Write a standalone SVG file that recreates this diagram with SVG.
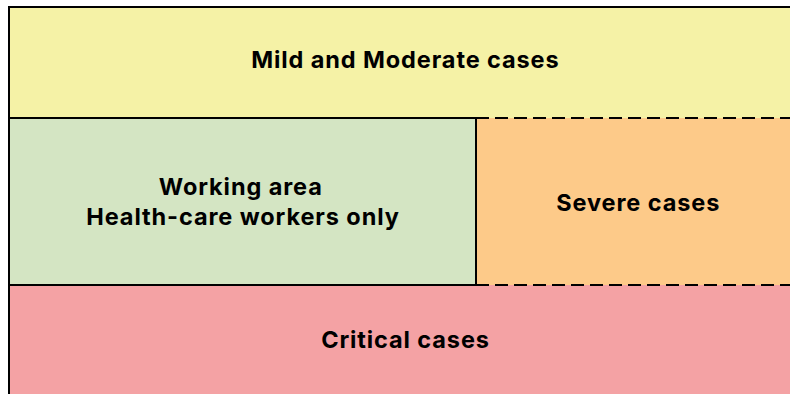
<svg xmlns="http://www.w3.org/2000/svg" width="790" height="394" viewBox="0 0 790 394">
<style>
.t{font-family:Inter,"Liberation Sans",sans-serif;font-weight:700;font-size:23.5px;letter-spacing:0.9px;fill:#000;text-anchor:middle}
.s{stroke:#000;stroke-width:2;fill:none}
.d{stroke:#000;stroke-width:2;stroke-dasharray:13 6;fill:none}
</style>
<rect width="790" height="394" fill="#fff"/>
<g id="mild">
<rect x="9" y="7" width="800" height="111" fill="#f5f2a6"/>
<text class="t" x="405.4" y="68">Mild and Moderate cases</text>
</g>
<g id="working">
<rect x="9" y="118" width="467" height="167" fill="#d4e5c3"/>
<text class="t" x="240.8" y="194.5">Working area</text>
<text class="t" x="243" y="224.5">Health-care workers only</text>
</g>
<g id="severe">
<rect x="476" y="118" width="330" height="167" fill="#fdca89"/>
<text class="t" x="638.2" y="211">Severe cases</text>
</g>
<g id="critical">
<rect x="9" y="285" width="800" height="120" fill="#f4a2a4"/>
<text class="t" x="405.5" y="347.5">Critical cases</text>
</g>
<g id="lines">
<path class="s" d="M9 400V7H800"/>
<path class="s" d="M9 118H476V285H9"/>
<path class="d" d="M476 118H800M476 285H800"/>
</g>
</svg>
